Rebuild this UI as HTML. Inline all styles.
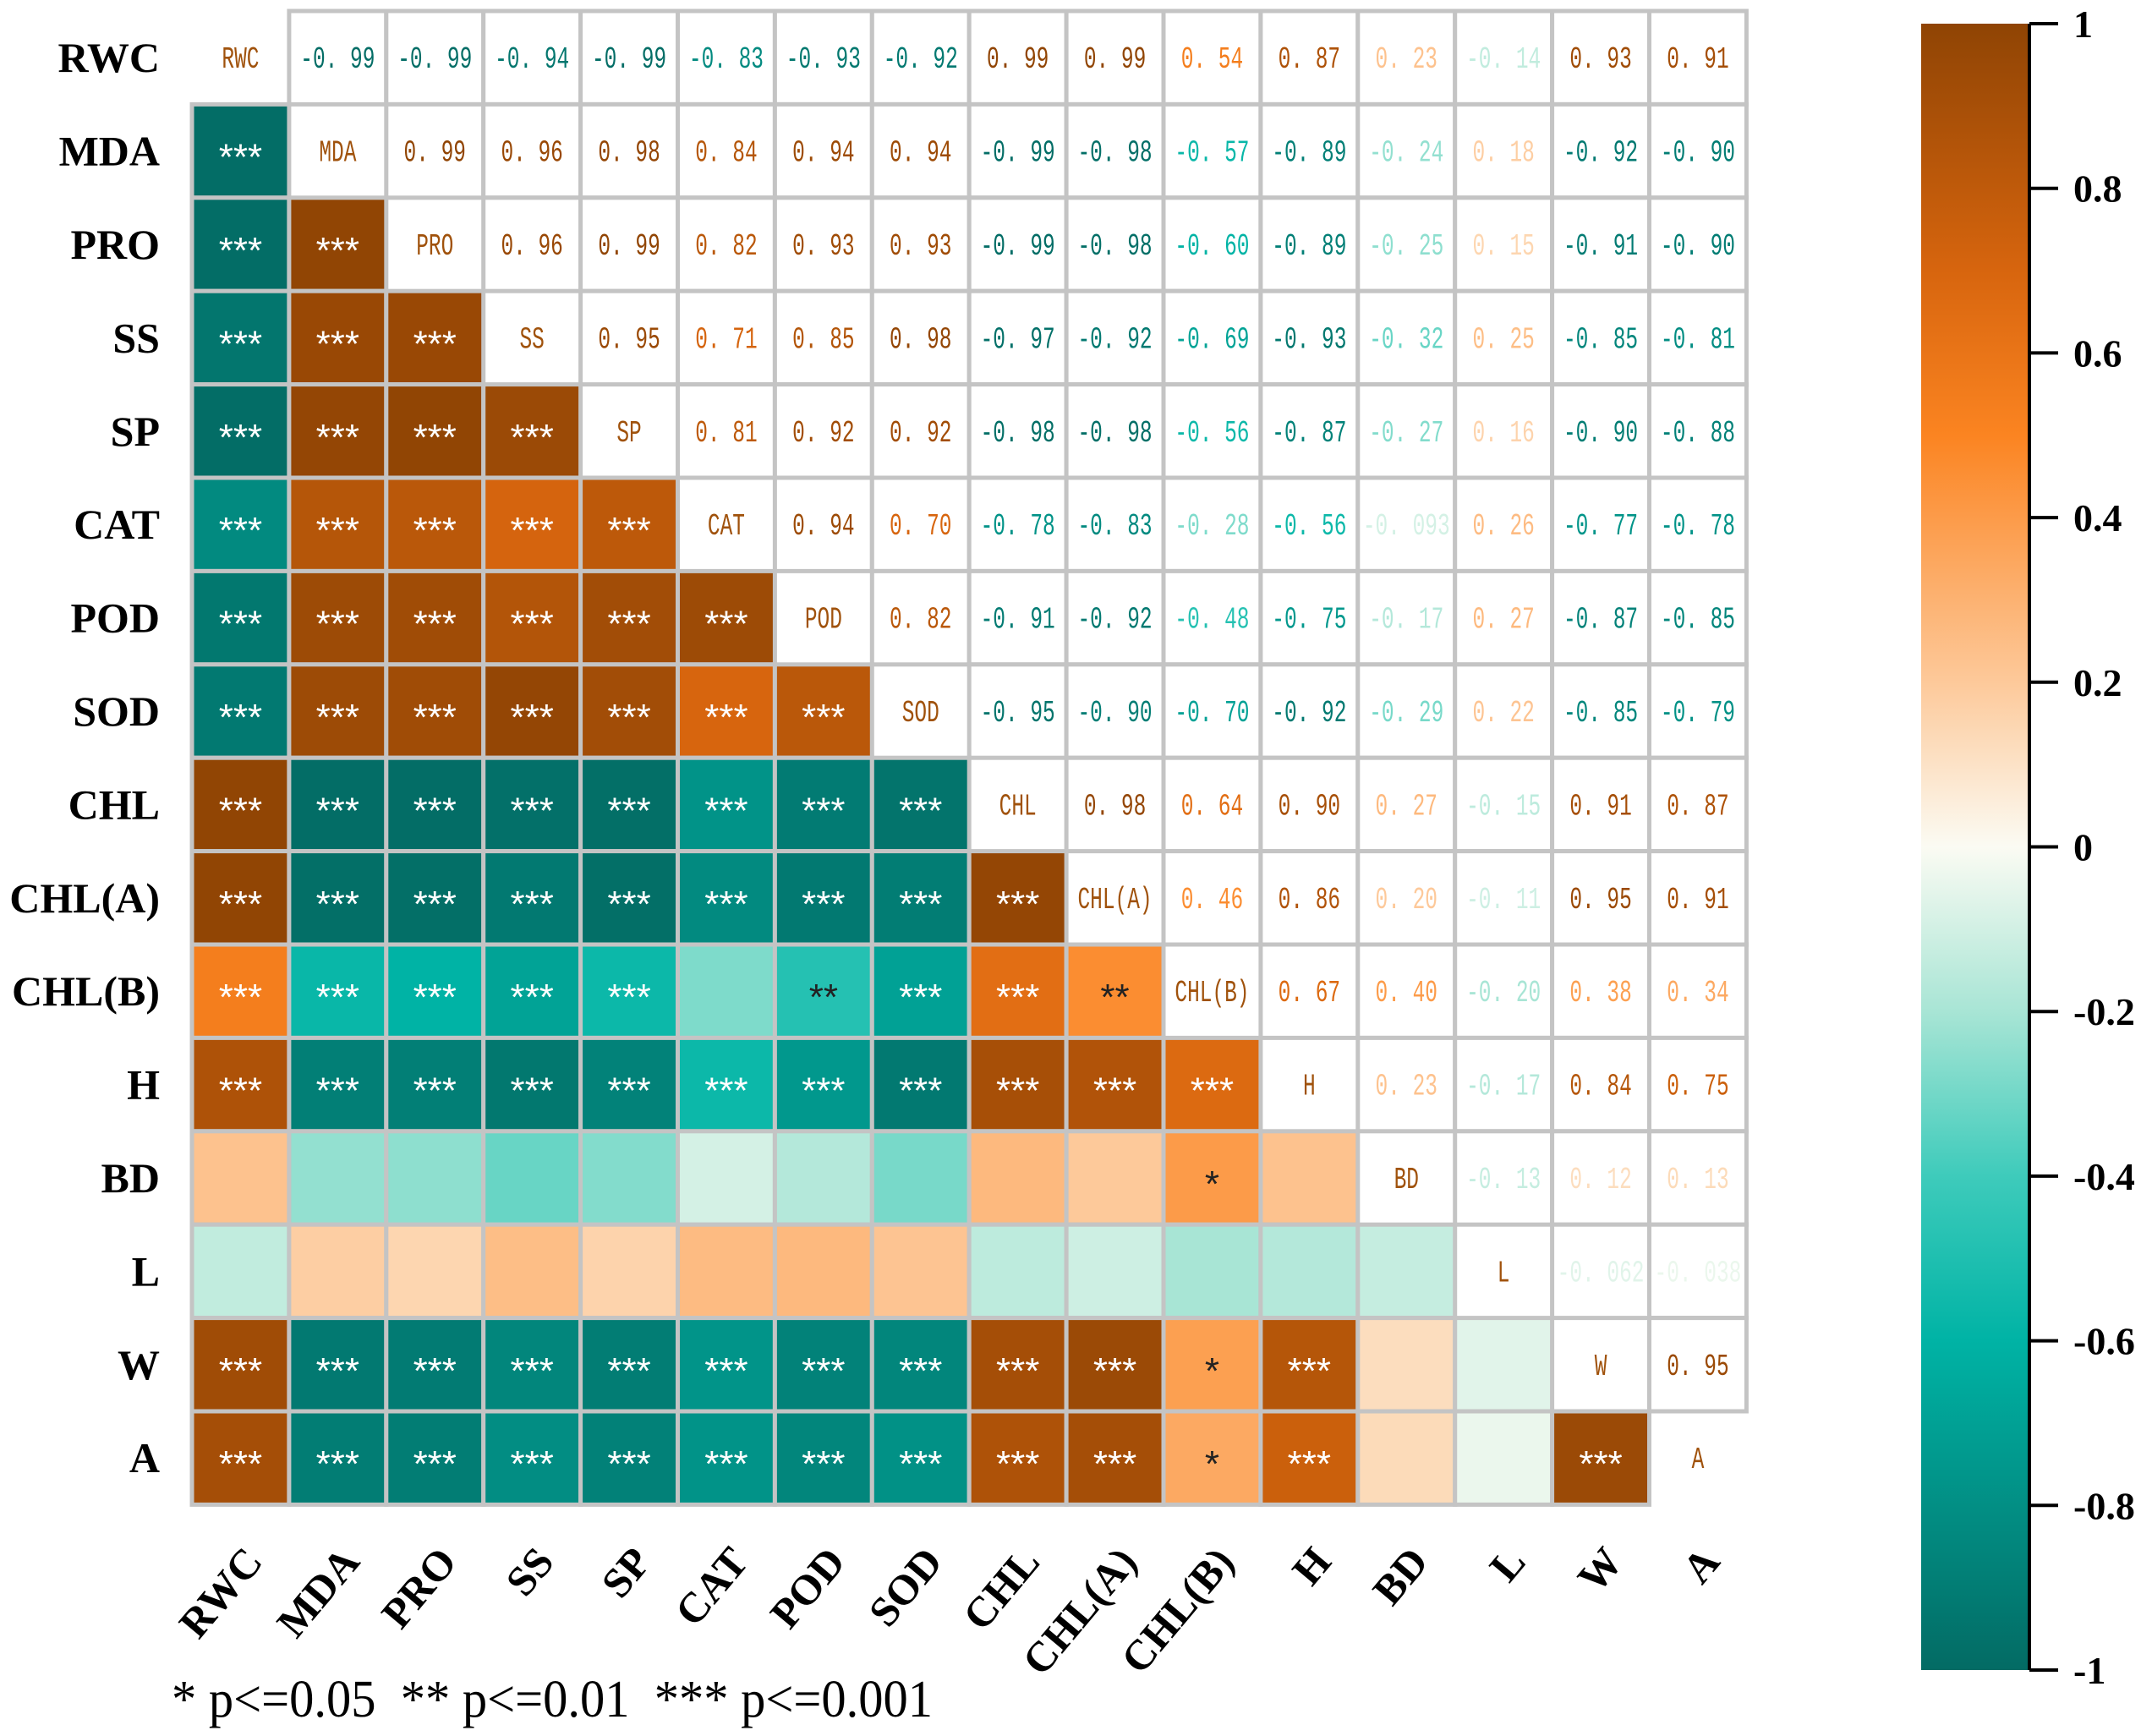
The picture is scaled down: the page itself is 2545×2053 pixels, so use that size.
<!DOCTYPE html>
<html><head><meta charset="utf-8"><style>
html,body{margin:0;padding:0;background:#fff}
svg{display:block}
</style></head><body>
<svg id="chart" width="2545" height="2053" xmlns="http://www.w3.org/2000/svg">
<defs>
<linearGradient id="cbgrad" x1="0" y1="1" x2="0" y2="0"></linearGradient>
</defs>
<g id="cells"></g>
<g id="rowlabels"></g>
<g id="collabels"></g>
<g id="cbar"></g>
<text x="203" y="2030" xml:space="preserve" textLength="900" lengthAdjust="spacingAndGlyphs" font-family="Liberation Serif, serif" font-size="62">* p&lt;=0.05  ** p&lt;=0.01  *** p&lt;=0.001</text>
</svg>
<script>
const variables = ["RWC","MDA","PRO","SS","SP","CAT","POD","SOD","CHL","CHL(A)","CHL(B)","H","BD","L","W","A"];
const upperValues = [
 [-0.99,-0.99,-0.94,-0.99,-0.83,-0.93,-0.92,0.99,0.99,0.54,0.87,0.23,-0.14,0.93,0.91],
 [0.99,0.96,0.98,0.84,0.94,0.94,-0.99,-0.98,-0.57,-0.89,-0.24,0.18,-0.92,-0.90],
 [0.96,0.99,0.82,0.93,0.93,-0.99,-0.98,-0.60,-0.89,-0.25,0.15,-0.91,-0.90],
 [0.95,0.71,0.85,0.98,-0.97,-0.92,-0.69,-0.93,-0.32,0.25,-0.85,-0.81],
 [0.81,0.92,0.92,-0.98,-0.98,-0.56,-0.87,-0.27,0.16,-0.90,-0.88],
 [0.94,0.70,-0.78,-0.83,-0.28,-0.56,-0.093,0.26,-0.77,-0.78],
 [0.82,-0.91,-0.92,-0.48,-0.75,-0.17,0.27,-0.87,-0.85],
 [-0.95,-0.90,-0.70,-0.92,-0.29,0.22,-0.85,-0.79],
 [0.98,0.64,0.90,0.27,-0.15,0.91,0.87],
 [0.46,0.86,0.20,-0.11,0.95,0.91],
 [0.67,0.40,-0.20,0.38,0.34],
 [0.23,-0.17,0.84,0.75],
 [-0.13,0.12,0.13],
 [-0.062,-0.038],
 [0.95]
];
const signif = [
 [],
 ["***"],
 ["***","***"],
 ["***","***","***"],
 ["***","***","***","***"],
 ["***","***","***","***","***"],
 ["***","***","***","***","***","***"],
 ["***","***","***","***","***","***","***"],
 ["***","***","***","***","***","***","***","***"],
 ["***","***","***","***","***","***","***","***","***"],
 ["***","***","***","***","***","","**","***","***","**"],
 ["***","***","***","***","***","***","***","***","***","***","***"],
 ["","","","","","","","","","","*",""],
 ["","","","","","","","","","","","",""],
 ["***","***","***","***","***","***","***","***","***","***","*","***","",""],
 ["***","***","***","***","***","***","***","***","***","***","*","***","","","***"]
];
const colorStops = [-1,-0.6,-0.4,-0.2,0,0.2,0.5,0.7,1];
const colorHex = ["#036b64","#00b3a5","#3ecbbb","#a8e5d5","#fbfbf3","#fdc99a","#fb8421","#d7650e","#8f4404"];
const cbTicks = [1,0.8,0.6,0.4,0.2,0,-0.2,-0.4,-0.6,-0.8,-1];

const NS="http://www.w3.org/2000/svg";
const X0=227, Y0=13, CW=114.9, RH=110.4;
const n=variables.length;
function val(i,j){ if(i===j) return 1; if(i<j) return upperValues[i][j-i-1]; return upperValues[j][i-j-1]; }
function hex2rgb(h){return [1,3,5].map(k=>parseInt(h.substr(k,2),16));}
function color(v){
  for(let k=0;k<colorStops.length-1;k++){
    if(v<=colorStops[k+1]){
      const t=(v-colorStops[k])/(colorStops[k+1]-colorStops[k]);
      const a=hex2rgb(colorHex[k]), b=hex2rgb(colorHex[k+1]);
      return "rgb("+a.map((x,m)=>Math.round(x+(b[m]-x)*t)).join(",")+")";
    }
  }
  return colorHex[colorHex.length-1];
}
function xs(j){return X0+j*CW;}
function ys(i){return Y0+i*RH;}
function mk(tag,attrs,parent){const e=document.createElementNS(NS,tag);for(const k in attrs)e.setAttribute(k,attrs[k]);parent.appendChild(e);return e;}
function fmt(v){let s=Math.abs(v)<0.1?v.toFixed(3).replace(/0$/,""):v.toFixed(2);return s.replace("-0.","-0. ").replace(/^0\./,"0. ");}

const cells=document.getElementById("cells");
for(let i=0;i<n;i++){
  for(let j=0;j<n;j++){
    const v=val(i,j);
    const x=xs(j), y=ys(i);
    if(i>j){
      const r=mk("rect",{x:x,y:y,width:CW,height:RH,fill:color(v),stroke:"#c4c4c4","stroke-width":5},cells);
      
      
      const s=signif[i][j];
      if(s){
        const t=mk("text",{x:x+CW/2,y:y+RH/2+22,"text-anchor":"middle","font-family":"Liberation Sans, sans-serif","font-size":44,fill:Math.abs(v)>0.5?"#ffffff":"#222222"},cells);
        t.textContent=s;
        
        
      }
    } else {
      if(i<j){
        const r=mk("rect",{x:x,y:y,width:CW,height:RH,fill:"#ffffff",stroke:"#c4c4c4","stroke-width":5},cells);
        
        
      }
      const cx=x+CW/2, cy=y+RH/2+12;
      const t=mk("text",{x:0,y:0,"text-anchor":"middle","font-family":"Liberation Mono, monospace","font-size":36,transform:"translate("+cx+" "+cy+") scale(0.68 1)",fill:i===j?"#a0520c":color(v)},cells);
      t.textContent=i===j?variables[i]:fmt(v);
      
      
    }
  }
}
const rl=document.getElementById("rowlabels");
variables.forEach((name,i)=>{
  const t=mk("text",{x:189,y:ys(i)+RH/2+17,"text-anchor":"end","font-family":"Liberation Serif, serif","font-weight":"bold","font-size":50},rl);
  t.textContent=name;
  
  
});
const cl=document.getElementById("collabels");
variables.forEach((name,j)=>{
  const cx=xs(j)+CW/2+28, cy=1848;
  const t=mk("text",{x:cx,y:cy,"text-anchor":"end","font-family":"Liberation Serif, serif","font-weight":"bold","font-size":50,transform:"rotate(-50 "+cx+" "+cy+")"},cl);
  t.textContent=name;
  
  
});
const grad=document.getElementById("cbgrad");
colorStops.forEach((s,k)=>{mk("stop",{offset:((s+1)/2*100)+"%","stop-color":colorHex[k]},grad);});
const cb=document.getElementById("cbar");
const CBX=2272, CBW=128, CBT=28, CBB=1975;
function cy(v){return CBT+(1-v)/2*(CBB-CBT);}
const bar=mk("rect",{x:CBX,y:CBT,width:CBW,height:CBB-CBT,fill:"url(#cbgrad)"},cb);


const ax=mk("line",{x1:CBX+CBW,y1:CBT,x2:CBX+CBW,y2:CBB,stroke:"#000","stroke-width":4},cb);


cbTicks.forEach(v=>{
  const l=mk("line",{x1:CBX+CBW,y1:cy(v),x2:CBX+CBW+34,y2:cy(v),stroke:"#000","stroke-width":4},cb);
  
  
  const t=mk("text",{x:2452,y:cy(v)+16,"font-family":"Liberation Serif, serif","font-weight":"bold","font-size":46},cb);
  t.textContent=String(v);
  
  
});
</script>
</body></html>
